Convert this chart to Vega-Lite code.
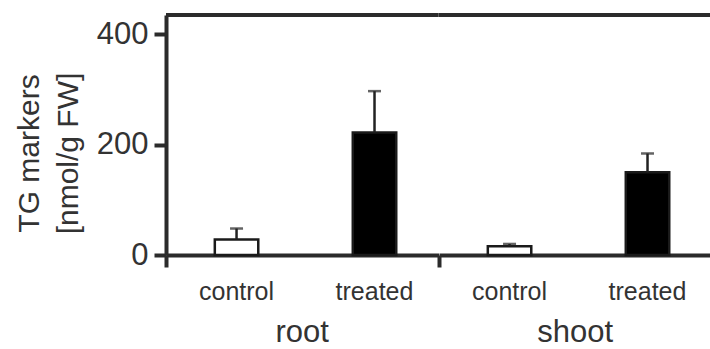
{
  "$schema": "https://vega.github.io/schema/vega-lite/v6.json",
  "background": "white",
  "padding": {"left": 14, "top": 13, "right": -2, "bottom": 0},
  "bounds": "flush",
  "data": {
    "values": [
      {"organ": "root", "treatment": "control", "mean": 28, "upper": 48},
      {"organ": "root", "treatment": "treated", "mean": 222, "upper": 297},
      {"organ": "shoot", "treatment": "control", "mean": 16, "upper": 20},
      {"organ": "shoot", "treatment": "treated", "mean": 150, "upper": 184}
    ]
  },
  "facet": {
    "column": {
      "field": "organ",
      "type": "nominal",
      "title": null,
      "header": {
        "labelOrient": "bottom",
        "labelFontSize": 31,
        "labelColor": "#333333",
        "labelPadding": 14
      }
    }
  },
  "spacing": 0,
  "spec": {
    "width": 272.5,
    "height": 240,
    "layer": [
      {
        "mark": {"type": "bar", "stroke": "#1a1a1a", "strokeWidth": 2.5},
        "encoding": {
          "x": {
            "field": "treatment",
            "type": "nominal",
            "scale": {"paddingInner": 0.685, "paddingOuter": 0.33, "align": 0.536},
            "axis": {
              "orient": "bottom",
              "title": null,
              "labelAngle": 0,
              "labelFontSize": 25,
              "labelColor": "#333333",
              "labelPadding": 24,
              "ticks": false,
              "domainWidth": 4,
              "domainColor": "#2b2b2b"
            }
          },
          "y": {
            "field": "mean",
            "type": "quantitative",
            "scale": {"domain": [0, 435], "nice": false},
            "axis": {
              "values": [0, 200, 400],
              "title": ["TG markers", "[nmol/g FW]"],
              "titleFontSize": 30,
              "titleFontWeight": "normal",
              "titleColor": "#333333",
              "titleLineHeight": 39,
              "titlePadding": 13,
              "titleY": 138,
              "labelFontSize": 31,
              "labelColor": "#333333",
              "labelPadding": 6,
              "tickSize": 12,
              "tickWidth": 4,
              "tickColor": "#2b2b2b",
              "domainWidth": 4,
              "domainColor": "#2b2b2b",
              "grid": false
            }
          },
          "fill": {
            "field": "treatment",
            "type": "nominal",
            "scale": {"domain": ["control", "treated"], "range": ["#ffffff", "#000000"]},
            "legend": null
          }
        }
      },
      {
        "mark": {"type": "rule", "color": "#222222", "strokeWidth": 2.5},
        "encoding": {
          "x": {
            "field": "treatment",
            "type": "nominal",
            "axis": {
              "orient": "bottom",
              "values": ["control"],
              "bandPosition": -1.12,
              "labels": false,
              "domain": false,
              "ticks": true,
              "tickSize": 12,
              "tickWidth": 4,
              "tickColor": "#2b2b2b",
              "title": null
            }
          },
          "y": {"field": "mean", "type": "quantitative"},
          "y2": {"field": "upper"}
        }
      },
      {
        "mark": {"type": "tick", "color": "#222222", "size": 13, "thickness": 2.5},
        "encoding": {
          "x": {"field": "treatment", "type": "nominal", "axis": null},
          "y": {"field": "upper", "type": "quantitative"}
        }
      },
      {
        "mark": {"type": "rule", "color": "#2b2b2b", "strokeWidth": 4},
        "encoding": {"y": {"datum": 435}}
      }
    ],
    "resolve": {"axis": {"x": "independent"}}
  },
  "config": {
    "font": "Liberation Sans",
    "view": {"stroke": null}
  }
}
